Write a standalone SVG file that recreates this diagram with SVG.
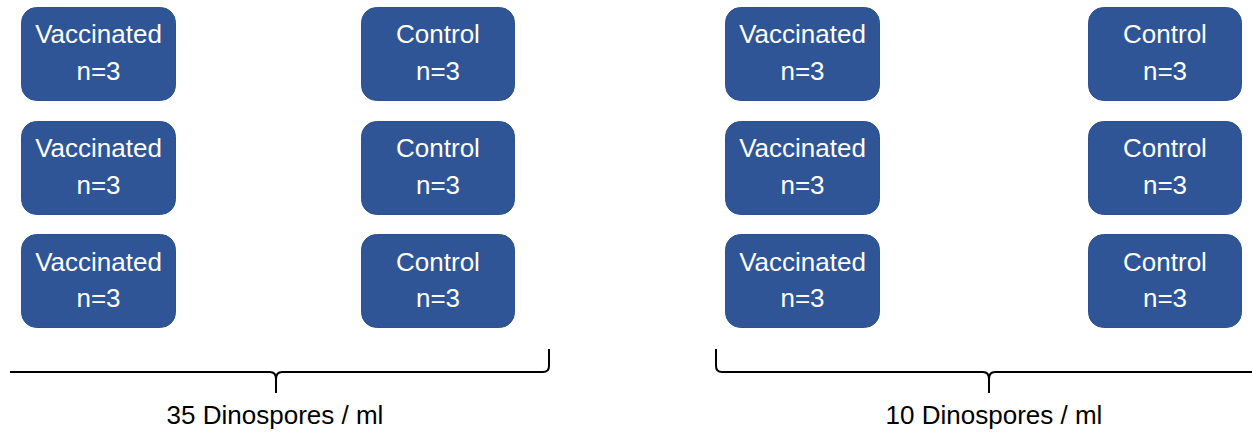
<svg xmlns="http://www.w3.org/2000/svg" width="1252" height="434" viewBox="0 0 1252 434">
<style>
.box{fill:#2F5597;stroke:#2F528F;stroke-width:1}
.t{font-family:"Liberation Sans",Arial,sans-serif;font-size:26px;fill:#fff;text-anchor:middle}
.lbl{font-family:"Liberation Sans",Arial,sans-serif;font-size:26px;fill:#000;text-anchor:middle}
.br{fill:none;stroke:#000;stroke-width:2}
</style>
<rect width="1252" height="434" fill="#fff"/>
<g id="v1"><rect class="box" x="21.5" y="7.5" width="154" height="93" rx="15"/><text class="t" x="98.5" y="43">Vaccinated</text><text class="t" x="98.5" y="80">n=3</text></g>
<g id="c1"><rect class="box" x="361.5" y="7.5" width="153" height="93" rx="15"/><text class="t" x="438" y="43">Control</text><text class="t" x="438" y="80">n=3</text></g>
<g id="v2"><rect class="box" x="21.5" y="121.5" width="154" height="93" rx="15"/><text class="t" x="98.5" y="157">Vaccinated</text><text class="t" x="98.5" y="194">n=3</text></g>
<g id="c2"><rect class="box" x="361.5" y="121.5" width="153" height="93" rx="15"/><text class="t" x="438" y="157">Control</text><text class="t" x="438" y="194">n=3</text></g>
<g id="v3"><rect class="box" x="21.5" y="234.5" width="154" height="93" rx="15"/><text class="t" x="98.5" y="271">Vaccinated</text><text class="t" x="98.5" y="307">n=3</text></g>
<g id="c3"><rect class="box" x="361.5" y="234.5" width="153" height="93" rx="15"/><text class="t" x="438" y="271">Control</text><text class="t" x="438" y="307">n=3</text></g>
<g id="v4"><rect class="box" x="725.5" y="7.5" width="154" height="93" rx="15"/><text class="t" x="802.5" y="43">Vaccinated</text><text class="t" x="802.5" y="80">n=3</text></g>
<g id="c4"><rect class="box" x="1088.5" y="7.5" width="153" height="93" rx="15"/><text class="t" x="1165" y="43">Control</text><text class="t" x="1165" y="80">n=3</text></g>
<g id="v5"><rect class="box" x="725.5" y="121.5" width="154" height="93" rx="15"/><text class="t" x="802.5" y="157">Vaccinated</text><text class="t" x="802.5" y="194">n=3</text></g>
<g id="c5"><rect class="box" x="1088.5" y="121.5" width="153" height="93" rx="15"/><text class="t" x="1165" y="157">Control</text><text class="t" x="1165" y="194">n=3</text></g>
<g id="v6"><rect class="box" x="725.5" y="234.5" width="154" height="93" rx="15"/><text class="t" x="802.5" y="271">Vaccinated</text><text class="t" x="802.5" y="307">n=3</text></g>
<g id="c6"><rect class="box" x="1088.5" y="234.5" width="153" height="93" rx="15"/><text class="t" x="1165" y="271">Control</text><text class="t" x="1165" y="307">n=3</text></g>
<g id="connectors">
<path class="br" d="M10,372 H270 Q276,372 276,379 V393 M276,379 Q276,372 282,372 H543 Q549,372 549,366 V349"/>
<path class="br" d="M716,349 V366 Q716,372 722,372 H983 Q989,372 989,379 V393 M989,379 Q989,372 995,372 H1252"/>
</g>
<g id="label35"><text class="lbl" x="275" y="424">35 Dinospores / ml</text></g>
<g id="label10"><text class="lbl" x="994" y="424">10 Dinospores / ml</text></g>
</svg>
